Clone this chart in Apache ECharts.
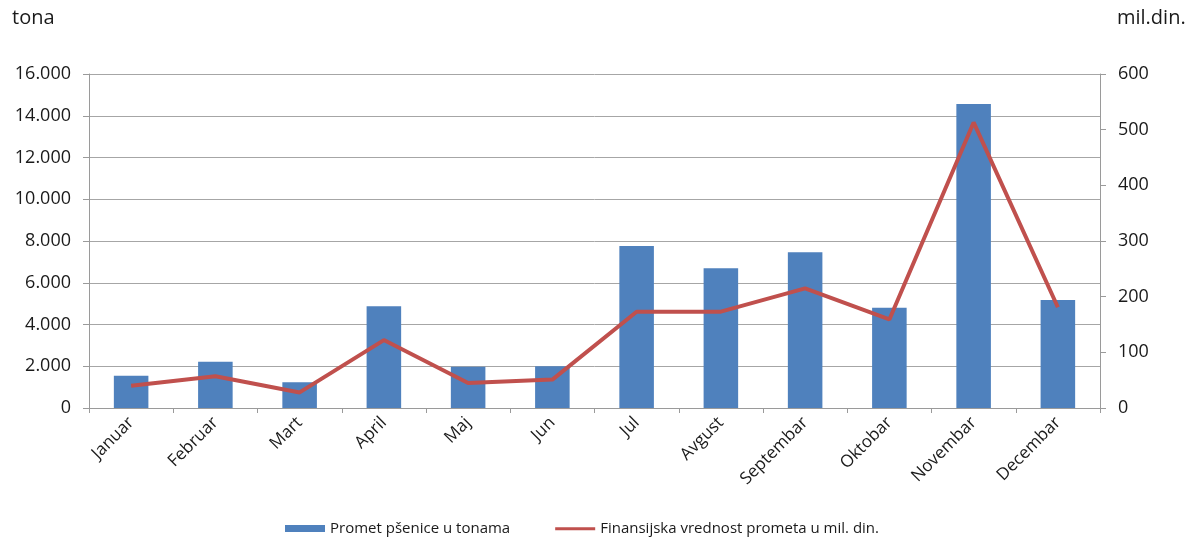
<!DOCTYPE html>
<html>
<head>
<meta charset="utf-8">
<script src="https://cdn.jsdelivr.net/npm/echarts@6/dist/echarts.min.js"></script>
<style>html,body{margin:0;padding:0;background:#fff;}#c{width:1193px;height:543px;}</style>
</head>
<body>
<div id="c"></div>
<script>
var categories = ['Januar','Februar','Mart','April','Maj','Jun','Jul','Avgust','Septembar','Oktobar','Novembar','Decembar'];
var tonnage = [1550, 2220, 1230, 4880, 1980, 2000, 7760, 6690, 7460, 4800, 14560, 5170];
var valueMilDin = [40, 57, 28, 122, 45, 51, 173, 173, 215, 159, 513, 181];
var seriesNames = ['Promet pšenice u tonama', 'Finansijska vrednost prometa u mil. din.'];
var leftUnit = 'tona';
var rightUnit = 'mil.din.';

var FONT = 'Open Sans';
var TXT = '#1a1a1a';
var chart = echarts.init(document.getElementById('c'));
function fmtThousands(v){
  var s = String(Math.round(v));
  return s.replace(/\B(?=(\d{3})+(?!\d))/g, '.');
}
chart.setOption({
  animation: false,
  textStyle: {fontFamily: FONT},
  graphic: [
    {type:'text', left: 12, top: 8, style:{text: leftUnit, fontFamily: FONT, fontSize: 20, fill: TXT}},
    {type:'text', left: 1117, top: 8, style:{text: rightUnit, fontFamily: FONT, fontSize: 20, fill: TXT}}
  ],
  grid: {left: 89, right: 93, top: 74, bottom: 135},
  legend: {
    bottom: 2, left: 280, itemWidth: 40, itemHeight: 7, itemGap: 45,
    textStyle: {fontFamily: FONT, fontSize: 15, color: TXT},
    data: [
      {name: seriesNames[0], icon: 'rect'},
      {name: seriesNames[1], icon: 'path://M0,2.2h40v3h-40zM0,0h0.01v7h-0.01z', itemStyle: {color: '#C0504D'}}
    ]
  },
  xAxis: {
    type: 'category', data: categories, boundaryGap: true,
    axisLine: {lineStyle: {color: '#9a9a9a', width: 1}},
    axisTick: {show: true, alignWithLabel: false, length: 5, lineStyle:{color:'#9a9a9a'}},
    axisLabel: {rotate: 45, interval: 0, fontFamily: FONT, fontSize: 17, color: TXT, margin: 12}
  },
  yAxis: [
    {
      type: 'value', min: 0, max: 16000, interval: 2000, position: 'left',
      axisLine: {show: true, lineStyle: {color: '#9a9a9a'}},
      axisTick: {show: true, length: 6, lineStyle:{color:'#9a9a9a'}},
      splitLine: {show: true, lineStyle: {color: '#a6a6a6', width: 1}},
      axisLabel: {fontFamily: FONT, fontSize: 18, color: TXT, margin: 18, formatter: fmtThousands}
    },
    {
      type: 'value', min: 0, max: 600, interval: 100, position: 'right',
      axisLine: {show: true, lineStyle: {color: '#9a9a9a'}},
      axisTick: {show: true, length: 6, lineStyle:{color:'#9a9a9a'}},
      splitLine: {show: false},
      axisLabel: {fontFamily: FONT, fontSize: 18, color: TXT, margin: 18}
    }
  ],
  series: [
    {
      name: seriesNames[0], type: 'bar', yAxisIndex: 0, data: tonnage,
      barWidth: '41%', itemStyle: {color: '#4F81BD'}
    },
    {
      name: seriesNames[1], type: 'line', yAxisIndex: 1, data: valueMilDin,
      symbol: 'none', lineStyle: {color: '#C0504D', width: 4}, itemStyle: {color: '#C0504D'}
    }
  ]
});
</script>
</body>
</html>
